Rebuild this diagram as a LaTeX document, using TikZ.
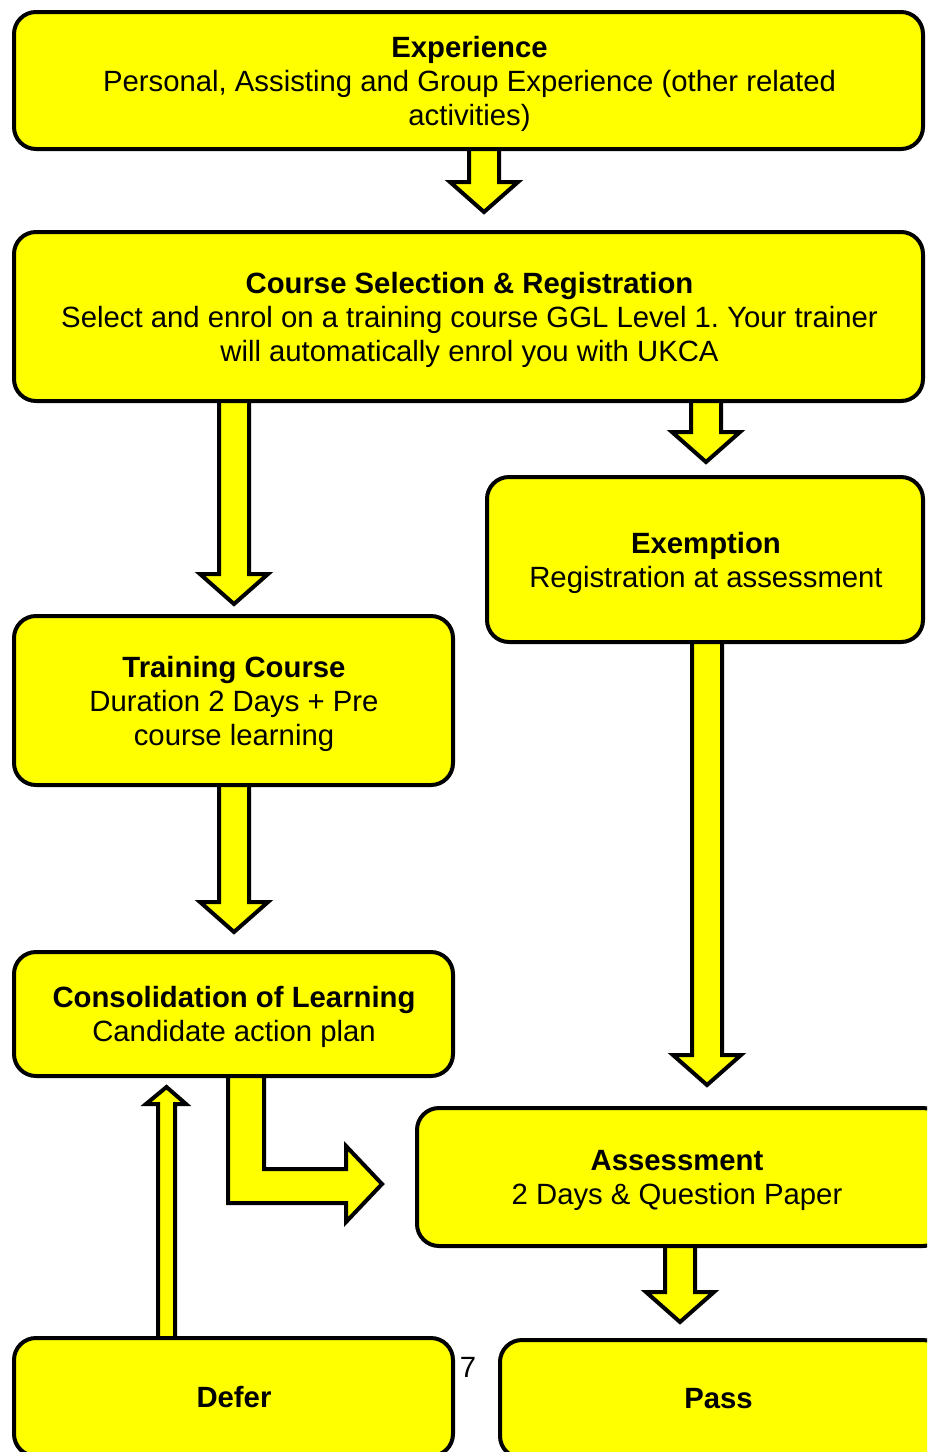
\documentclass[tikz,border=0pt]{standalone}
\usepackage{fontspec}
\setmainfont{Liberation Sans}
\frenchspacing
\usetikzlibrary{backgrounds,calc}
\definecolor{boxyellow}{RGB}{255,255,0}
\tikzset{
  box/.style={draw=black, line width=4pt, fill=boxyellow, rounded corners=22pt,
    inner sep=0pt},
  txt/.style={inner sep=0pt, align=center, font=\fontsize{29.3}{34}\selectfont},
  barrow/.style={draw=black, line width=4pt, fill=boxyellow, line join=miter}
}
% #1 centre x, #2 source node, #3 target node, #4 head height, #5 gap above target
\newcommand\dnblock[5]{%
  \draw[barrow] let \p1=(#2.south), \p2=(#3.north) in
   (#1pt-15pt,\y1+10pt) -- (#1pt-15pt,\y2+#5pt+#4pt) -- (#1pt-34pt,\y2+#5pt+#4pt)
   -- (#1pt,\y2+#5pt) -- (#1pt+34pt,\y2+#5pt+#4pt) -- (#1pt+15pt,\y2+#5pt+#4pt)
   -- (#1pt+15pt,\y1+10pt) -- cycle;}
\begin{document}
\begin{tikzpicture}[x=1pt,y=-1pt]
\useasboundingbox (0,0) rectangle (927,1452);
\clip (0,0) rectangle (927,1452);

\node[box, minimum width=909pt, minimum height=137pt] (exp) at (468.5,80.5) {};
\node[box, minimum width=909pt, minimum height=169pt] (crs) at (468.5,316.5) {};
\node[box, minimum width=436pt, minimum height=165pt] (exm) at (705,559.5) {};
\node[box, minimum width=439pt, minimum height=169pt] (trn) at (233.5,700.5) {};
\node[box, minimum width=439pt, minimum height=124pt] (con) at (233.5,1014) {};
\node[box, minimum width=528pt, minimum height=138pt] (ass) at (681,1177) {};
\node[box, minimum width=439pt, minimum height=118pt] (def) at (233.5,1397) {};
\node[box, minimum width=445pt, minimum height=118pt] (pas) at (722.5,1399) {};

\node[txt] (expt) at ([shift={(1,3)}]exp.center)
  {\textbf{Experience}\\Personal, Assisting and Group Experience (other related\\activities)};
\node[txt] (crst) at ([shift={(1,3)}]crs.center)
  {\textbf{Course Selection \& Registration}\\Select and enrol on a training course GGL Level 1. Your trainer\\will automatically enrol you with UKCA};
\node[txt] (exmt) at ([shift={(1,3)}]exm.center)
  {\textbf{Exemption}\\Registration at assessment};
\node[txt] (trnt) at ([shift={(0.5,3)}]trn.center)
  {\textbf{Training Course}\\Duration 2 Days + Pre\\course learning};
\node[txt] (cont) at ([shift={(0.5,3)}]con.center)
  {\textbf{Consolidation of Learning}\\Candidate action plan};
\node[txt] (asst) at ([shift={(-4,3)}]ass.center)
  {\textbf{Assessment}\\2 Days \& Question Paper};
\node[txt] (deft) at ([shift={(0.5,0)}]def.center) {\textbf{Defer}};
\node[txt] (past) at ([shift={(-4,0)}]pas.center) {\textbf{Pass}};
\node[txt] (pg) at (468,1367) {7};

\begin{pgfonlayer}{background}
\dnblock{484}{exp}{crs}{30}{18}
\dnblock{234}{crs}{trn}{30}{10}
\dnblock{706}{crs}{exm}{30}{13}
\dnblock{234}{trn}{con}{30}{18}
\dnblock{707}{exm}{ass}{30}{21}
\dnblock{680}{ass}{pas}{30}{16}
% L-shaped arrow from consolidation to assessment
\draw[barrow] let \p1=(con.south), \p2=(ass.west) in
  (228pt,\y1+10pt) -- (228pt,-1203pt) -- (346pt,-1203pt) -- (346pt,-1222pt)
  -- (\x2-33pt,-1184pt) -- (346pt,-1146pt) -- (346pt,-1169pt) -- (264pt,-1169pt)
  -- (264pt,\y1+10pt) -- cycle;
% up arrow from defer to consolidation
\draw[barrow] let \p1=(def.north), \p2=(con.south) in
  (158pt,\y1-10pt) -- (158pt,\y2-26pt) -- (146pt,\y2-26pt) -- (166.5pt,\y2-9pt)
  -- (186pt,\y2-26pt) -- (175pt,\y2-26pt) -- (175pt,\y1-10pt) -- cycle;
\end{pgfonlayer}
\end{tikzpicture}
\end{document}
